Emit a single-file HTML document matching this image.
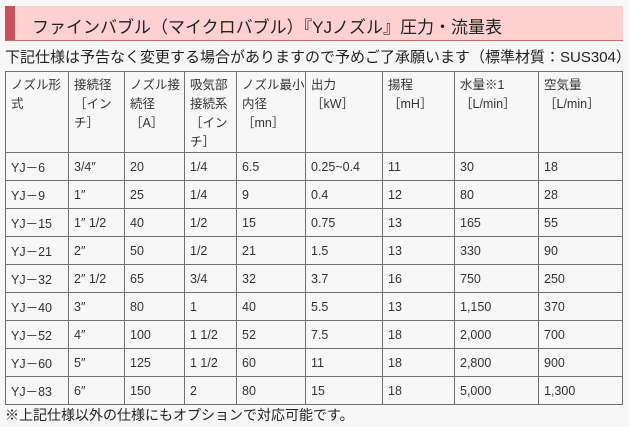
<!DOCTYPE html>
<html><head><meta charset="utf-8">
<style>
html,body{margin:0;padding:0;background:#f7f7f7;width:629px;height:427px;overflow:hidden}
body{font-family:"Liberation Sans","Noto Sans CJK JP",sans-serif;color:#333;position:relative}
.title{position:absolute;left:5px;top:6px;width:618px;height:35px;background:#ffd0d0;border-bottom:1px solid #c96a6a;box-sizing:border-box}
.title .bar{position:absolute;left:0;top:0;width:10px;height:100%;background:#c9525a}
.title span{position:absolute;left:27px;top:7px;font-size:17px;color:#222}
.sub{position:absolute;left:5px;top:46px;font-size:15px;white-space:nowrap;color:#222}
table{position:absolute;left:5px;top:71px;border-collapse:collapse;table-layout:fixed;font-size:12.5px}
td{border:1px solid #707070;padding:0 0 0 5px;height:27px;vertical-align:middle;white-space:nowrap}
tr.h td{height:76px;vertical-align:top;padding-top:4px;line-height:19px;white-space:normal}
.foot{position:absolute;left:5px;top:405px;font-size:14px;color:#222;white-space:nowrap}
</style></head><body>
<div class="title"><div class="bar"></div><span>ファインバブル（マイクロバブル）『YJノズル』圧力・流量表</span></div>
<div class="sub">下記仕様は予告なく変更する場合がありますので予めご了承願います（標準材質：SUS304）</div>
<table>
<colgroup><col style="width:63px"><col style="width:56px"><col style="width:60px"><col style="width:52px"><col style="width:69px"><col style="width:77px"><col style="width:72px"><col style="width:84px"><col style="width:84px"></colgroup>
<tr class="h"><td>ノズル形式</td><td>接続径<br>［インチ］</td><td>ノズル接続径<br>［A］</td><td>吸気部接続系<br>［インチ］</td><td>ノズル最小内径<br>［mn］</td><td>出力<br>［kW］</td><td>揚程<br>［mH］</td><td>水量※1<br>［L/min］</td><td>空気量<br>［L/min］</td></tr>
<tr><td>YJ－6</td><td>3/4″</td><td>20</td><td>1/4</td><td>6.5</td><td>0.25~0.4</td><td>11</td><td>30</td><td>18</td></tr>
<tr><td>YJ－9</td><td>1″</td><td>25</td><td>1/4</td><td>9</td><td>0.4</td><td>12</td><td>80</td><td>28</td></tr>
<tr><td>YJ－15</td><td>1″ 1/2</td><td>40</td><td>1/2</td><td>15</td><td>0.75</td><td>13</td><td>165</td><td>55</td></tr>
<tr><td>YJ－21</td><td>2″</td><td>50</td><td>1/2</td><td>21</td><td>1.5</td><td>13</td><td>330</td><td>90</td></tr>
<tr><td>YJ－32</td><td>2″ 1/2</td><td>65</td><td>3/4</td><td>32</td><td>3.7</td><td>16</td><td>750</td><td>250</td></tr>
<tr><td>YJ－40</td><td>3″</td><td>80</td><td>1</td><td>40</td><td>5.5</td><td>13</td><td>1,150</td><td>370</td></tr>
<tr><td>YJ－52</td><td>4″</td><td>100</td><td>1 1/2</td><td>52</td><td>7.5</td><td>18</td><td>2,000</td><td>700</td></tr>
<tr><td>YJ－60</td><td>5″</td><td>125</td><td>1 1/2</td><td>60</td><td>11</td><td>18</td><td>2,800</td><td>900</td></tr>
<tr><td>YJ－83</td><td>6″</td><td>150</td><td>2</td><td>80</td><td>15</td><td>18</td><td>5,000</td><td>1,300</td></tr>
</table>
<div class="foot">※上記仕様以外の仕様にもオプションで対応可能です。</div>
</body></html>
